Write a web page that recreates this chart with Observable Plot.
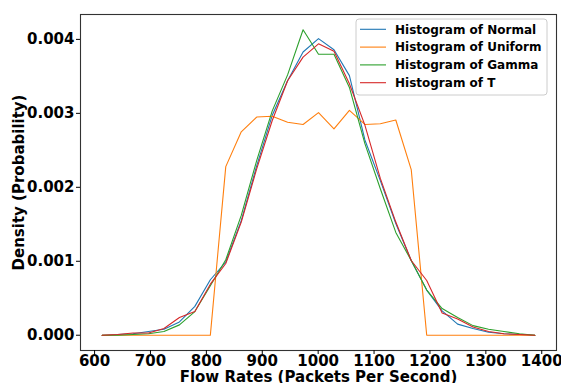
<!DOCTYPE html>
<html>
<head>
<meta charset="utf-8">
<script src="https://cdn.jsdelivr.net/npm/d3@7"></script>
<script src="https://cdn.jsdelivr.net/npm/@observablehq/plot@0.6"></script>
<style>
  html, body { margin: 0; padding: 0; background: #fff; }
  #chart { width: 561px; height: 383px; }
</style>
</head>
<body>
<div id="chart"></div>
<script>
// Bin centers (Flow Rates, packets per second)
const bins = [613.5, 641.2, 668.8, 696.5, 724.1, 751.8, 779.4, 807.1, 834.7, 862.4,
  890.0, 917.7, 945.3, 973.0, 1000.6, 1028.3, 1055.9, 1083.6, 1111.2, 1138.9,
  1166.5, 1194.2, 1221.8, 1249.5, 1277.1, 1304.8, 1332.4, 1360.1, 1387.7];

const normal = [0.00000, 0.00001, 0.00002, 0.00005, 0.00008, 0.00018, 0.00039, 0.00075, 0.00099, 0.00155,
  0.00229, 0.00297, 0.00344, 0.00383, 0.00401, 0.00386, 0.00351, 0.00264, 0.00209, 0.00151,
  0.00101, 0.00061, 0.00033, 0.00015, 0.00009, 0.00004, 0.00002, 0.00001, 0.00000];
const uniform = [0, 0, 0, 0, 0, 0, 0, 0, 0.00228, 0.00275,
  0.00295, 0.00296, 0.00288, 0.00285, 0.00301, 0.00279, 0.00304, 0.00285, 0.00286, 0.00291,
  0.00224, 0, 0, 0, 0, 0, 0, 0, 0];
const gamma = [0.00000, 0.00000, 0.00001, 0.00002, 0.00005, 0.00014, 0.00032, 0.00067, 0.00102, 0.00162,
  0.00236, 0.00303, 0.00352, 0.00413, 0.00380, 0.00380, 0.00335, 0.00259, 0.00198, 0.00139,
  0.00101, 0.00061, 0.00036, 0.00024, 0.00013, 0.00008, 0.00005, 0.00002, 0.00000];
const tdist = [0.00000, 0.00001, 0.00003, 0.00003, 0.00009, 0.00024, 0.00032, 0.00069, 0.00097, 0.00153,
  0.00225, 0.00290, 0.00344, 0.00376, 0.00394, 0.00384, 0.00340, 0.00284, 0.00212, 0.00153,
  0.00101, 0.00074, 0.00030, 0.00022, 0.00011, 0.00005, 0.00002, 0.00001, 0.00000];

const seriesNames = ["Histogram of Normal", "Histogram of Uniform", "Histogram of Gamma", "Histogram of T"];
const seriesValues = [normal, uniform, gamma, tdist];
const seriesColors = ["#1f77b4", "#ff7f0e", "#2ca02c", "#d62728"];

const xTicks = [600, 700, 800, 900, 1000, 1100, 1200, 1300, 1400];
const yTicks = [0, 0.001, 0.002, 0.003, 0.004];

const rows = [];
seriesNames.forEach((name, i) => {
  bins.forEach((b, j) => rows.push({x: b, y: seriesValues[i][j], s: name}));
});

const chart = Plot.plot({
  width: 561,
  height: 383,
  marginLeft: 80,
  marginRight: 5,
  marginTop: 14,
  marginBottom: 33,
  style: {fontFamily: "DejaVu Sans", fontWeight: "bold", fontSize: "15px", color: "#000", background: "#fff"},
  x: {domain: [574.8, 1426.4]},
  y: {domain: [-0.0002065, 0.0043365]},
  color: {domain: seriesNames, range: seriesColors},
  marks: [
    Plot.line(rows, {x: "x", y: "y", z: "s", stroke: "s", strokeWidth: 1.1}),
    Plot.frame({stroke: "#333", strokeWidth: 1.1}),
    Plot.axisX({ticks: xTicks, tickFormat: d => String(d), tickSize: 4, tickPadding: 1,
      label: "Flow Rates (Packets Per Second)", labelAnchor: "center", labelOffset: 31, labelArrow: "none"}),
    Plot.axisY({ticks: yTicks, tickFormat: d => d.toFixed(3), tickSize: 4, tickPadding: 2,
      label: "Density (Probability)", labelAnchor: "center", labelOffset: 67, labelArrow: "none"})
  ]
});
document.getElementById("chart").appendChild(chart);

// Legend (upper right, inside the frame)
const svg = d3.select(chart);
const lg = svg.append("g")
  .attr("font-family", "DejaVu Sans")
  .attr("font-weight", "bold")
  .attr("font-size", 12)
  .attr("text-anchor", "start");
lg.append("rect")
  .attr("x", 356).attr("y", 19).attr("width", 191).attr("height", 76)
  .attr("rx", 3)
  .attr("fill", "white").attr("fill-opacity", 0.8)
  .attr("stroke", "#cccccc").attr("stroke-width", 1);
seriesNames.forEach((name, i) => {
  const cy = 29.3 + i * 17.8;
  lg.append("line")
    .attr("x1", 360).attr("x2", 386).attr("y1", cy).attr("y2", cy)
    .attr("stroke", seriesColors[i]).attr("stroke-width", 1.1);
  lg.append("text")
    .attr("x", 395).attr("y", cy + 4.3)
    .attr("text-anchor", "start")
    .attr("fill", "#000")
    .text(name);
});
</script>
</body>
</html>
